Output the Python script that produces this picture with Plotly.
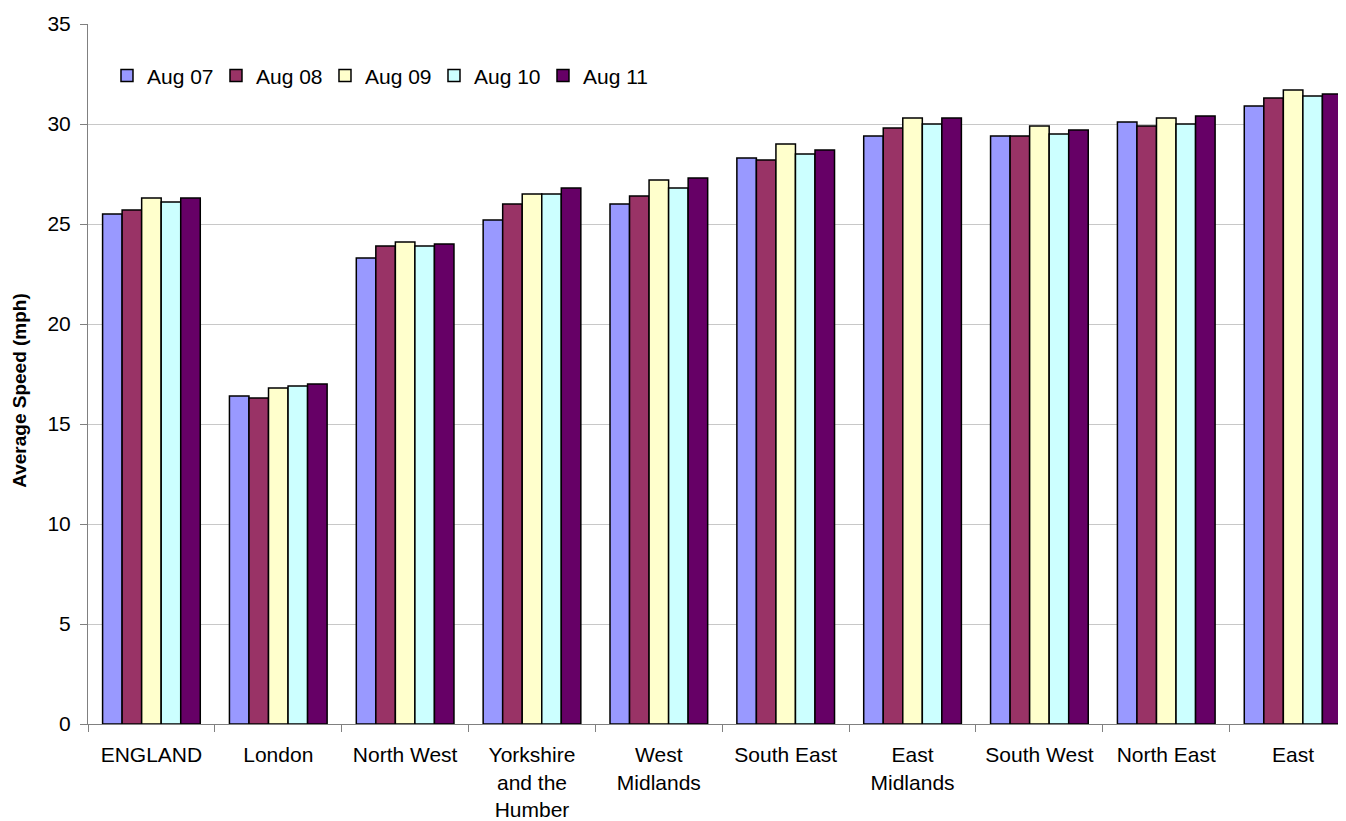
import plotly.graph_objects as go

regions = ["ENGLAND", "London", "North West", "Yorkshire<br>and the<br>Humber",
           "West<br>Midlands", "South East", "East<br>Midlands", "South West",
           "North East", "East"]

series_names = ["Aug 07", "Aug 08", "Aug 09", "Aug 10", "Aug 11"]
aug07 = [25.5, 16.4, 23.3, 25.2, 26.0, 28.3, 29.4, 29.4, 30.1, 30.9]
aug08 = [25.7, 16.3, 23.9, 26.0, 26.4, 28.2, 29.8, 29.4, 29.9, 31.3]
aug09 = [26.3, 16.8, 24.1, 26.5, 27.2, 29.0, 30.3, 29.9, 30.3, 31.7]
aug10 = [26.1, 16.9, 23.9, 26.5, 26.8, 28.5, 30.0, 29.5, 30.0, 31.4]
aug11 = [26.3, 17.0, 24.0, 26.8, 27.3, 28.7, 30.3, 29.7, 30.4, 31.5]
series_values = [aug07, aug08, aug09, aug10, aug11]
colors = ["#9999FF", "#993366", "#FFFFCC", "#CCFFFF", "#660066"]

y_ticks = [0, 5, 10, 15, 20, 25, 30, 35]

fig = go.Figure()
for name, vals, col in zip(series_names, series_values, colors):
    fig.add_trace(go.Bar(
        x=regions, y=vals, name=name,
        marker=dict(color=col, line=dict(color="#000000", width=1.5)),
    ))

font_family = "Liberation Sans, Arial, sans-serif"
fig.update_layout(
    width=1346, height=821,
    margin=dict(l=80, r=0, t=16, b=105),
    paper_bgcolor="white", plot_bgcolor="white",
    barmode="group", bargap=0.23, bargroupgap=0,
    font=dict(family=font_family, size=21, color="#000000"),
    showlegend=True,
    legend=dict(
        orientation="h", x=0.015, y=0.926, xanchor="left", yanchor="middle",
        font=dict(size=21), bgcolor="rgba(0,0,0,0)",
        entrywidth=64, entrywidthmode="pixels", traceorder="normal",
    ),
    xaxis=dict(
        type="category", range=[-0.5, 9.48],
        showline=True, linecolor="#808080", linewidth=1,
        ticks="outside", ticklen=7, tickcolor="#808080", tickson="boundaries",
        ticklabelstandoff=12,
        tickfont=dict(size=21), showgrid=False, zeroline=False,
    ),
    yaxis=dict(
        range=[0, 35], tickvals=y_ticks, ticktext=[str(v) for v in y_ticks],
        showline=True, linecolor="#808080", linewidth=1,
        ticks="outside", ticklen=7, tickcolor="#808080",
        ticklabelstandoff=5,
        showgrid=True, gridcolor="#C8C8C8", gridwidth=1,
        zeroline=False, tickfont=dict(size=21),
    ),
    annotations=[dict(
        text="<b>Average Speed (mph)</b>", textangle=-90,
        xref="paper", yref="paper", x=-0.0537, y=0.476,
        xanchor="center", yanchor="middle", showarrow=False,
        font=dict(size=19, family=font_family, color="#000000"),
    )],
)

fig.write_html("out.html")
